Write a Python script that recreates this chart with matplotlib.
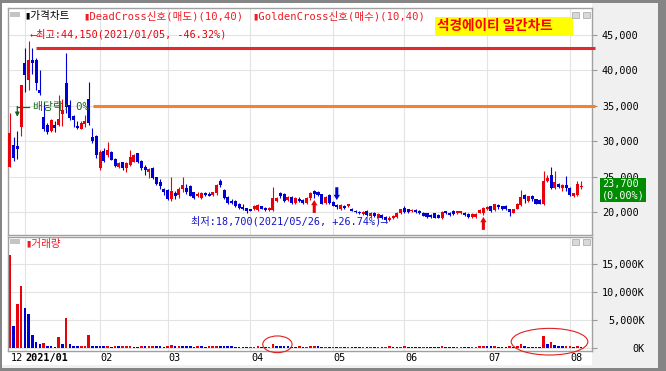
import numpy as np
import pandas as pd
import matplotlib
matplotlib.use('Agg')
import matplotlib.pyplot as plt
from matplotlib.patches import Rectangle, Ellipse
from matplotlib.transforms import blended_transform_factory

# KOSDAQ trading days from listing (2020-12-24) to 2021-08-05
holidays = ['2020-12-25', '2020-12-31', '2021-01-01', '2021-02-11',
            '2021-02-12', '2021-03-01', '2021-05-05', '2021-05-19']
dates = pd.bdate_range('2020-12-24', '2021-08-05')
dates = dates[~dates.isin(pd.to_datetime(holidays))]

# daily prices (won), grouped by month: Dec, Jan, Feb, Mar, Apr, May, Jun, Jul, Aug
open_p = [26400, 29500, 29300, 32000,
          41000, 38650, 41500, 41500, 37300, 33400, 32300, 31500, 32300, 32300, 33800, 38200, 35100, 33500, 32200, 31700, 32500, 36000, 30600, 30700,
          26250, 28600, 28100, 28500, 27500, 26400, 27000, 26200, 26700, 27100, 28300, 27200, 26300, 25700, 26200, 24900, 24300, 23300,
          23100, 21900, 22700, 22400, 23200, 23400, 23700, 22800, 22200, 22000, 22700, 22600, 22400, 22700, 24400, 23100, 22100, 21600, 21600, 21200, 20700, 20600,
          20400, 20400, 20300, 20800, 20600, 20300, 20300, 21500, 22700, 22600, 21700, 22100, 21300, 21900, 21700, 21300, 22000, 23000, 22800, 22500, 21300, 22400,
          21400, 21000, 20400, 20900, 20800, 20500, 20200, 20000, 19700, 20200, 19400, 19900, 19200, 19600, 19300, 18900, 19100, 19300, 19800,
          20600, 20400, 20100, 20300, 20200, 19900, 19800, 19600, 19800, 19600, 19100, 20100, 19900, 20200, 19800, 19800, 19900, 19700, 19300, 19300, 19900, 19800,
          20400, 20800, 20300, 21000, 20800, 20900, 20500, 19900, 20500, 21000, 22400, 21500, 22200, 21800, 21700, 21200, 24400, 25200, 23400, 24000, 23400, 23800,
          23400, 22300, 22400, 23500]
high_p = [34000, 30600, 31500, 38000,
          43100, 44150, 43100, 41800, 40000, 35500, 32600, 33200, 32800, 36500, 36000, 42500, 35800, 33700, 32900, 32800, 33700, 38400, 31800, 30900,
          28800, 29000, 29900, 28600, 27600, 27100, 27100, 27100, 28800, 28200, 28400, 27400, 26700, 26200, 26300, 25000, 24600, 23400,
          23200, 25000, 23000, 23500, 25000, 23900, 23800, 22900, 22800, 22900, 22900, 22800, 22900, 24000, 24700, 23300, 22200, 21800, 21700, 21300, 21100, 20600,
          20500, 21000, 21100, 20900, 20700, 20700, 23500, 22100, 22900, 22700, 22200, 22200, 22100, 22100, 21800, 22100, 22900, 23100, 23000, 22600, 22200, 22500,
          21500, 21100, 21100, 21000, 21200, 20600, 20300, 20100, 20100, 20300, 20000, 20000, 19800, 19700, 19400, 19400, 19600, 20000, 20500,
          20800, 20500, 20400, 20400, 20300, 20000, 19900, 19700, 19900, 19700, 20100, 20200, 20000, 20300, 20200, 20200, 20000, 19800, 19800, 19800, 20400, 20700,
          20800, 20900, 21200, 21200, 20900, 21000, 20500, 20500, 21300, 23100, 22500, 22300, 22400, 21900, 21800, 25800, 25200, 26400, 25800, 24100, 24000, 25100,
          23500, 22700, 24400, 24400]
low_p = [26300, 27200, 27500, 30700,
         37000, 37230, 39500, 37200, 36500, 31400, 31000, 31300, 31300, 32200, 32200, 34000, 33000, 32000, 31700, 31700, 32000, 32300, 29800, 27700,
         26000, 27000, 27800, 27300, 26300, 26200, 26000, 25600, 26500, 27000, 26900, 26000, 25300, 24800, 24700, 23800, 23200, 22400,
         21700, 21600, 21900, 22000, 22800, 22600, 22200, 21900, 22100, 21800, 22300, 22200, 22300, 22400, 23500, 21900, 21200, 21100, 20700, 20500, 20300, 19900,
         20100, 20300, 20200, 20400, 20200, 20200, 20200, 21400, 22000, 21400, 21500, 21200, 21200, 21400, 21200, 21200, 21700, 22000, 22200, 21100, 21200, 21200,
         20800, 20500, 20300, 20500, 20700, 20100, 19800, 19700, 19600, 19500, 19300, 19300, 19100, 19000, 18800, 18700, 19000, 19200, 19700,
         19900, 19900, 20000, 19900, 19700, 19400, 19200, 19200, 19100, 19100, 19000, 19700, 19500, 19600, 19700, 19700, 19500, 19200, 19200, 19200, 19800, 19600,
         20300, 20000, 20200, 20500, 20300, 20300, 19400, 19800, 20400, 20800, 21300, 21400, 21500, 21100, 21100, 21000, 24200, 23300, 23300, 23400, 23000, 23000,
         22300, 22100, 22300, 23300]
close_p = [31200, 27600, 28900, 37900,
           39350, 41470, 41000, 38200, 36800, 31700, 31300, 33000, 31900, 33100, 34400, 34800, 33300, 33000, 31800, 32600, 32900, 32600, 30000, 28000,
           28550, 27200, 28800, 27400, 26500, 26900, 26200, 26900, 27800, 28100, 27100, 26200, 25900, 26100, 24800, 23900, 23700, 22800,
           21900, 23000, 22200, 23300, 23800, 22900, 22300, 22000, 22600, 22700, 22400, 22300, 22800, 23800, 23800, 22000, 21300, 21300, 20800, 20600, 20400, 20200,
           20200, 20800, 21000, 20500, 20300, 20600, 22000, 22000, 22300, 21500, 22100, 21300, 22000, 21500, 21300, 22000, 22700, 22600, 22400, 21200, 22100, 21300,
           20900, 20700, 21000, 20600, 21100, 20200, 20000, 19800, 20000, 19600, 19900, 19400, 19700, 19100, 18900, 19200, 19500, 19900, 20400,
           20000, 20000, 20300, 20000, 19800, 19500, 19300, 19300, 19200, 19200, 20000, 19800, 19600, 19700, 20100, 20100, 19600, 19300, 19700, 19700, 20300, 20600,
           20700, 20100, 21100, 20700, 20400, 20400, 20000, 20400, 21200, 22100, 21800, 22200, 21800, 21200, 21200, 24400, 24800, 23400, 24300, 23500, 23800, 23400,
           22400, 22700, 23900, 23700]
# volume in thousands of shares
volume_k = [16660, 3980, 7910, 11125,
            7250, 6125, 2375, 1125, 770, 890, 410, 390, 280, 1960, 770, 5410, 770, 430, 400, 420, 440, 2375, 400, 380,
            360, 340, 400, 320, 350, 330, 370, 390, 420, 300, 280, 360, 330, 350, 400, 380, 340, 320,
            410, 580, 400, 480, 360, 340, 330, 320, 370, 350, 320, 360, 400, 430, 380, 350, 340, 330, 320, 310, 300, 290,
            300, 310, 330, 290, 280, 320, 750, 400, 350, 340, 330, 320, 310, 330, 300, 310, 340, 360, 330, 310, 320, 300,
            310, 300, 320, 290, 300, 280, 270, 260, 280, 270, 290, 280, 300, 290, 310, 330, 320, 300, 310,
            330, 310, 300, 290, 280, 300, 290, 280, 270, 260, 350, 300, 290, 280, 300, 310, 290, 280, 300, 320, 340, 430,
            350, 330, 360, 320, 310, 300, 330, 310, 340, 700, 340, 320, 310, 300, 290, 2260, 700, 1070, 520, 400, 380, 400,
            410, 300, 360, 300]

golden_idx = [81, 126]     # GoldenCross(10,40) signals
dead_idx = [87]            # DeadCross(10,40) signal
dividend_idx = 2           # ex-dividend day
change_pct = 0.0
price_ticks = [20000, 25000, 30000, 35000, 40000, 45000]
vol_ticks = [0, 5000, 10000, 15000]

W, H, DPI = 666, 371, 100
RED = '#e8000b'
BLUE = '#0000d2'
GRID = '#e3e3e3'
GREEN = '#146414'
plt.rcParams['font.family'] = ['DejaVu Sans Mono', 'Noto Sans CJK KR', 'DejaVu Sans']
plt.rcParams['font.size'] = 7.3

o, h, l, c = map(np.array, (open_p, high_p, low_p, close_p))
vol = np.array(volume_k)
x = np.arange(len(c))

fig = plt.figure(figsize=(W / DPI, H / DPI), dpi=DPI, facecolor='#f0f0f0')


def box(x0, y0, x1, y1, **kw):
    # rectangle in screen pixels, origin top-left
    fig.add_artist(Rectangle((x0 / W, 1 - y1 / H), (x1 - x0) / W, (y1 - y0) / H,
                             transform=fig.transFigure, **kw))


box(2, 3, 592, 365, facecolor='white', edgecolor='none', zorder=-1)
for r in [(0, 0, 666, 3), (0, 0, 2, 371), (0, 368, 666, 371), (658, 0, 666, 371)]:
    box(*r, facecolor='#858585', edgecolor='none', zorder=-1)

ax = fig.add_axes([8 / W, 1 - 235 / H, 584 / W, 227 / H])
axv = fig.add_axes([8 / W, 1 - 351 / H, 584 / W, 114 / H])

# month boundaries from the dates
month_pos = [0] + [i for i in range(1, len(dates)) if dates[i].month != dates[i - 1].month]
month_labels = [f'{dates[i]:%Y/%m}' if dates[i].month == 1 else f'{dates[i]:%m}' for i in month_pos]

for a, ticks, labels, pad in [(ax, price_ticks, [f'{t:,}' for t in price_ticks], 30),
                              (axv, vol_ticks, [f'{t:,}K' for t in vol_ticks], 34.5)]:
    a.set_facecolor('white')
    a.set_xlim(-0.48, 154.9)
    a.yaxis.tick_right()
    a.set_yticks(ticks)
    a.set_yticklabels(labels)
    a.tick_params(axis='y', length=3.6, width=0.8, color='#999999', pad=pad, labelsize=7.3)
    for t in a.get_yticklabels():
        t.set_horizontalalignment('right')
    a.tick_params(axis='x', bottom=False, labelbottom=False)
    a.grid(axis='y', color=GRID, lw=0.8)
    a.set_axisbelow(True)
    for m in month_pos[1:]:
        a.axvline(m, color=GRID, lw=0.8, zorder=0)
    for s in a.spines.values():
        s.set_color('#a0a0a0')
        s.set_linewidth(1)

ax.set_ylim(16760, 48812)
axv.set_ylim(-482, 19875)

# candles
colors = np.where(c >= o, RED, BLUE)
ax.vlines(x, l, h, colors=colors, linewidth=0.8, zorder=2)
ax.bar(x, np.maximum(np.abs(c - o), 90), bottom=np.minimum(o, c), width=0.8,
       color=colors, linewidth=0, zorder=3)

# volume, coloured by change against previous day
vcol = [RED] + [RED if vol[i] > vol[i - 1] else BLUE for i in range(1, len(vol))]
axv.bar(x, vol, width=0.7, color=vcol, linewidth=0, zorder=2)

# horizontal reference lines
ax.hlines(43100, 7.0, 155.7, color='#e8262d', lw=2.2, clip_on=False, zorder=4)
ax.hlines(35000, 22.1, 155.7, color='#f5822a', lw=2.2, clip_on=False, zorder=4)

# high / low annotations
imax, imin = int(np.argmax(h)), int(np.argmin(l))
last = c[-1]
ax.annotate(f'⟵최고:{h[imax]:,}({dates[imax]:%Y/%m/%d}, {(last / h[imax] - 1) * 100:+.2f}%)',
            xy=(imax, h[imax]), xytext=(2, 7), textcoords='offset pixels',
            color=RED, ha='left', va='center', fontsize=7.3, zorder=6)
ax.annotate(f'최저:{l[imin]:,}({dates[imin]:%Y/%m/%d}, {(last / l[imin] - 1) * 100:+.2f}%)⟶',
            xy=(imin, l[imin]), xytext=(-2, 0), textcoords='offset pixels',
            color='#1414c8', ha='right', va='center', fontsize=7.3, zorder=6)

# signal arrows
astyle = 'simple,head_length=0.38,head_width=0.45,tail_width=0.22'
for i in golden_idx:
    ax.annotate('', xy=(i, l[i]), xytext=(0, -15), textcoords='offset pixels',
                arrowprops=dict(arrowstyle=astyle, color=RED, lw=0, shrinkA=0, shrinkB=1.5,
                                mutation_scale=10), zorder=6)
for i in dead_idx:
    ax.annotate('', xy=(i, h[i]), xytext=(0, 17), textcoords='offset pixels',
                arrowprops=dict(arrowstyle=astyle, color=BLUE, lw=0, shrinkA=0, shrinkB=3,
                                mutation_scale=10), zorder=6)

# ex-dividend marker
ax.plot([dividend_idx, 5.1], [34900, 34900], color=GREEN, lw=0.9, zorder=6)
ax.annotate('', xy=(dividend_idx, 33450), xytext=(dividend_idx, 34900),
            arrowprops=dict(arrowstyle='-|>', color=GREEN, lw=0.9, shrinkA=0, shrinkB=0,
                            mutation_scale=6), zorder=6)
ax.annotate('배당락: 0%', xy=(dividend_idx, 34900), xytext=(16, 0), textcoords='offset pixels',
            color=GREEN, va='center', ha='left', fontsize=7.8, zorder=6)

# last price tag
ax.annotate(f'{last:,}\n({change_pct:.2f}%)', xy=(1, last), xycoords=('axes fraction', 'data'),
            xytext=(10, -4), textcoords='offset pixels', ha='left', va='center',
            color='white', fontsize=7.3, linespacing=1.2, annotation_clip=False,
            bbox=dict(boxstyle='square,pad=0.15', fc='#008c00', ec='none'))

# month labels
tr = blended_transform_factory(axv.transData, axv.transAxes)
for m, lab in zip(month_pos, month_labels):
    axv.text(m + 0.2, -0.02, lab, transform=tr, ha='left', va='top', fontsize=7.3,
             fontweight='bold' if '/' in lab else 'normal', color='black', clip_on=False)

# volume highlight ellipses
axv.add_patch(Ellipse((71.2, 714), 7.8, 2980, fill=False, ec='#e02020', lw=0.8, clip_on=False, zorder=5))
axv.add_patch(Ellipse((143.6, 1180), 20.4, 4760, fill=False, ec='#e02020', lw=0.8, clip_on=False, zorder=5))

# panel captions
fig.text(24 / W, 1 - 16.5 / H, '▮가격차트', color='black', va='center', ha='left', fontsize=7.6)
fig.text(83 / W, 1 - 16.5 / H, '▮DeadCross신호(매도)(10,40)', color='#ee1c25', va='center', ha='left', fontsize=7.6)
fig.text(252 / W, 1 - 16.5 / H, '▮GoldenCross신호(매수)(10,40)', color='#ee1c25', va='center', ha='left', fontsize=7.6)
fig.text(25 / W, 1 - 244.5 / H, '▮거래량', color='#ee1c25', va='center', ha='left', fontsize=7.6)

box(435, 17, 573, 35, facecolor='#ffff00', edgecolor='none', zorder=5)
fig.text(437 / W, 1 - 26 / H, '석경에이티 일간차트', color='#ff0000', fontweight='bold',
         fontsize=9.8, family='Noto Sans CJK KR', va='center', ha='left', zorder=6)

# small panel handles / window buttons
for y0 in (12, 239):
    box(10, y0, 20, y0 + 5, facecolor='#c4c4c4', edgecolor='none', zorder=5)
    box(572, y0, 579, y0 + 6, facecolor='#d8d8d8', edgecolor='#b0b0b0', lw=0.6, zorder=5)
    box(583, y0, 590, y0 + 6, facecolor='#d8d8d8', edgecolor='#b0b0b0', lw=0.6, zorder=5)

fig.savefig('out.png', dpi=DPI, facecolor=fig.get_facecolor())
